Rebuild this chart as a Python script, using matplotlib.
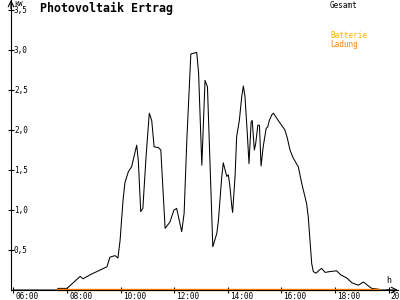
import matplotlib
matplotlib.use('Agg')
import matplotlib.pyplot as plt
from matplotlib.transforms import offset_copy

# Gesamt (kW) over the day
hours = [6.00, 7.63, 7.66, 8.00, 8.49, 8.60, 8.86, 9.49, 9.60, 9.79, 9.90, 9.98,
         10.09, 10.16, 10.29, 10.41, 10.60, 10.66, 10.75, 10.83, 10.95, 11.07,
         11.16, 11.25, 11.41, 11.50, 11.66, 11.84, 11.99, 12.09, 12.28, 12.37,
         12.47, 12.62, 12.84, 12.91, 13.03, 13.15, 13.24, 13.44, 13.59, 13.65,
         13.77, 13.83, 13.96, 14.02, 14.08, 14.15, 14.18, 14.27, 14.33, 14.43,
         14.52, 14.58, 14.64, 14.73, 14.79, 14.87, 14.91, 14.99, 15.04, 15.12,
         15.18, 15.24, 15.32, 15.43, 15.49, 15.55, 15.64, 15.70, 15.88, 16.13,
         16.22, 16.32, 16.44, 16.63, 16.76, 16.94, 17.00, 17.13, 17.19, 17.29,
         17.42, 17.50, 17.63, 17.81, 18.06, 18.21, 18.44, 18.63, 18.87, 19.06,
         19.21, 19.37, 19.62, 19.68, 20.05]
gesamt = [0.0, 0.0, 0.02, 0.02, 0.17, 0.14, 0.19, 0.29, 0.41, 0.43, 0.40, 0.62,
          1.12, 1.34, 1.48, 1.54, 1.81, 1.62, 0.98, 1.02, 1.67, 2.21,
          2.12, 1.79, 1.78, 1.75, 0.77, 0.85, 1.00, 1.02, 0.73, 0.96,
          1.87, 2.95, 2.97, 2.71, 1.56, 2.62, 2.54, 0.54, 0.71, 0.87,
          1.40, 1.59, 1.42, 1.44, 1.29, 1.04, 0.97, 1.42, 1.92, 2.12,
          2.42, 2.55, 2.42, 1.94, 1.58, 2.10, 2.12, 1.75, 1.83, 2.06,
          2.06, 1.55, 1.79, 2.02, 2.04, 2.12, 2.19, 2.21, 2.12, 2.00,
          1.90, 1.75, 1.65, 1.54, 1.33, 1.08, 0.92, 0.33, 0.23, 0.21,
          0.25, 0.27, 0.22, 0.23, 0.24, 0.19, 0.15, 0.09, 0.06, 0.10,
          0.06, 0.02, 0.01, 0.0, 0.0]

# Batterie / Ladung stay at zero
batt_hours = [7.63, 19.68]
batterie = [0.0, 0.0]
ladung = [0.0, 0.0]

x_ticks = [6, 8, 10, 12, 14, 16, 18, 20]
x_labels = ['06:00', '08:00', '10:00', '12:00', '14:00', '16:00', '18:00', '20:00']
y_ticks = [0.5, 1.0, 1.5, 2.0, 2.5, 3.0, 3.5]
y_labels = ['0,5', '1,0', '1,5', '2,0', '2,5', '3,0', '3,5']

mono = 'DejaVu Sans Mono'

fig = plt.figure(figsize=(4, 3), dpi=100)
ax = fig.add_axes([11 / 400, 10 / 300, 387 / 400, 290 / 300])
ax.set_xlim(5.91, 20.35)
ax.set_ylim(0, 3.625)

ax.plot(hours, gesamt, color='black', lw=0.75, clip_on=False)
ax.plot(batt_hours, batterie, color='#ffb000', lw=1.6, clip_on=False, solid_capstyle='butt')
ax.plot(batt_hours, ladung, color='#ff8000', lw=1.6, clip_on=False, solid_capstyle='butt')

for s in ['top', 'right']:
    ax.spines[s].set_visible(False)
for s in ['left', 'bottom']:
    ax.spines[s].set_linewidth(0.8)
ax.set_xticks(x_ticks)
ax.set_yticks(y_ticks)
ax.tick_params(direction='inout', length=5, width=0.8, labelleft=False, labelbottom=False)

# arrows at the axis ends
ax.annotate('', xy=(0, 1.0), xytext=(0, 0.97), xycoords='axes fraction',
            arrowprops=dict(arrowstyle='->', lw=0.8, color='black', shrinkA=0, shrinkB=0))
ax.annotate('', xy=(1.0, 0), xytext=(0.97, 0), xycoords='axes fraction',
            arrowprops=dict(arrowstyle='->', lw=0.8, color='black', shrinkA=0, shrinkB=0))

ytr = offset_copy(ax.get_yaxis_transform(), fig=fig, x=3, y=0, units='dots')
for v, lab in zip(y_ticks, y_labels):
    ax.text(0, v, lab, transform=ytr, ha='left', va='center', fontsize=5.5, family=mono)

xtr = offset_copy(ax.get_xaxis_transform(), fig=fig, x=2, y=-2, units='dots')
for h, lab in zip(x_ticks, x_labels):
    ax.text(h, 0, lab, transform=xtr, ha='left', va='top', fontsize=5.6, family=mono,
            clip_on=False)

fig.text(14 / 400, 1 - 1 / 300, 'kW', ha='left', va='top', fontsize=5, family=mono)
fig.text(386 / 400, 1 - 276 / 300, 'h', ha='left', va='top', fontsize=6, family=mono)
fig.text(40 / 400, 1 - 8 / 300, 'Photovoltaik Ertrag', ha='left', va='center',
         fontsize=8.4, family=mono, fontweight='bold')
fig.text(330 / 400, 1 - 5 / 300, 'Gesamt', ha='left', va='center', fontsize=5.5, family=mono)
fig.text(330 / 400, 1 - 35 / 300, 'Batterie', ha='left', va='center', fontsize=5.5,
         family=mono, color='#ffb000')
fig.text(330 / 400, 1 - 44 / 300, 'Ladung', ha='left', va='center', fontsize=5.5,
         family=mono, color='#ff8000')

fig.savefig('out.png', dpi=100)
